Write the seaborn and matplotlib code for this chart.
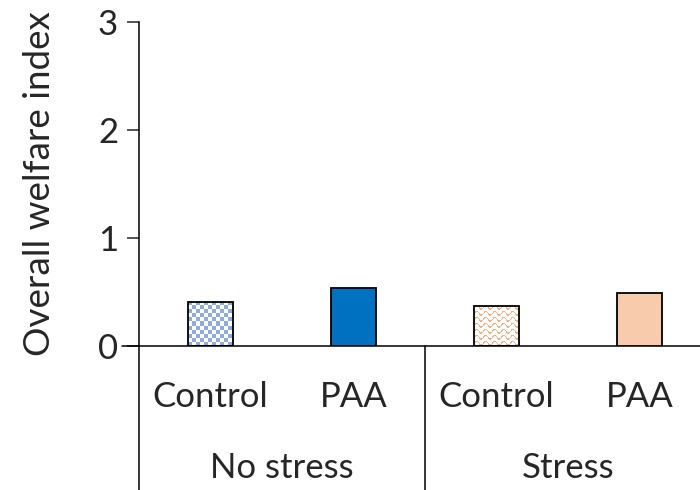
import numpy as np
import pandas as pd
import matplotlib
matplotlib.use("Agg")
import matplotlib.pyplot as plt
import matplotlib.transforms as mtransforms
import seaborn as sns

# values
groups = ["No stress", "No stress", "Stress", "Stress"]
treatments = ["Control", "PAA", "Control", "PAA"]
welfare = [0.41, 0.54, 0.37, 0.49]
group_names = ["No stress", "Stress"]

df = pd.DataFrame({"group": groups, "treatment": treatments, "welfare": welfare})
df["label"] = df["group"] + " " + df["treatment"]

sns.set_theme(style="white")
plt.rcParams["font.family"] = ["Lato", "DejaVu Sans"]

fig = plt.figure(figsize=(7, 4.9), dpi=100)
ax = fig.add_axes([139 / 700, 144 / 490, 572 / 700, 324 / 490])

sns.barplot(data=df, x="label", y="welfare", ax=ax, width=0.32,
            color="white", edgecolor="black", linewidth=1.3, saturation=1)

ax.set_xlim(-0.5, 3.5)
ax.set_ylim(0, 3)

fills = ["check", "#0070C0", "wave", "#F8CBAD"]


def texture(kind, w, h):
    yy, xx = np.mgrid[0:h, 0:w]
    img = np.ones((h, w, 3))
    if kind == "check":
        mask = ((xx // 4) + (yy // 4)) % 2 == 0
        img[mask] = matplotlib.colors.to_rgb("#8FAADC")
    else:
        wave = (yy + 2 * np.sin(xx * 2 * np.pi / 9)) % 6
        mask = wave < 1.4
        img[mask] = matplotlib.colors.to_rgb("#F4B183")
    return img


fig.canvas.draw()
for patch, fill in zip(ax.patches, fills):
    patch.set_zorder(3)
    if fill.startswith("#"):
        patch.set_facecolor(fill)
        continue
    x0, w, h = patch.get_x(), patch.get_width(), patch.get_height()
    p0 = ax.transData.transform((x0, 0))
    p1 = ax.transData.transform((x0 + w, h))
    pw, ph = int(round(abs(p1[0] - p0[0]))), int(round(abs(p1[1] - p0[1])))
    patch.set_facecolor("none")
    im = ax.imshow(texture(fill, pw, ph), extent=(x0, x0 + w, 0, h),
                   origin="upper", aspect="auto", interpolation="nearest", zorder=2)
    im.set_clip_path(patch)

ax.set_xlim(-0.5, 3.5)
ax.set_ylim(0, 3)
ax.set_yticks([0, 1, 2, 3])
ax.tick_params(axis="y", labelsize=25, length=9, width=1.1, direction="out", pad=6, left=True)
ax.set_xticks([])
ax.set_xlabel("")
ax.set_ylabel("Overall welfare index", fontsize=26.5, labelpad=30)

for s in ["top", "right"]:
    ax.spines[s].set_visible(False)
for s in ["left", "bottom"]:
    ax.spines[s].set_color("black")
    ax.spines[s].set_linewidth(1.1)

trans = mtransforms.blended_transform_factory(ax.transData, ax.transAxes)
for i, t in enumerate(treatments):
    ax.text(i, -0.157, t, transform=trans, ha="center", va="center", fontsize=25)
for j, g in enumerate(group_names):
    ax.text(2 * j + 0.5, -0.377, g, transform=trans, ha="center", va="center", fontsize=25)
for xb in [-0.5, 1.5, 3.5]:
    ax.plot([xb, xb], [0, -0.45], transform=trans, color="black", lw=1.1, clip_on=False)
ax.plot([-0.62, -0.5], [0, 0], transform=trans, color="black", lw=1.1, clip_on=False)

fig.savefig("out.png", dpi=100)
